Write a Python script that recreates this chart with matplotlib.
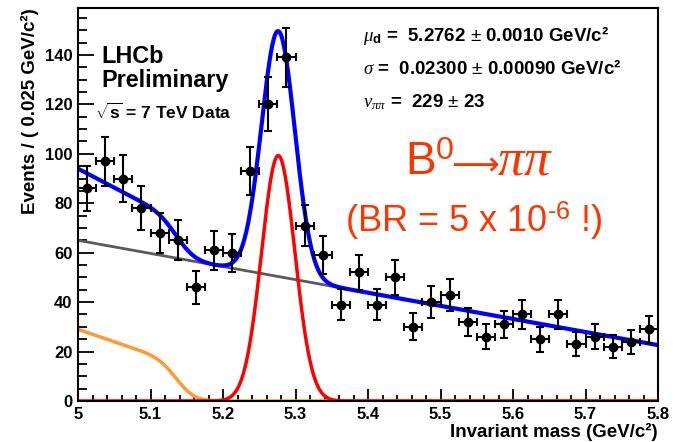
import math

import matplotlib
matplotlib.use("Agg")
import matplotlib.pyplot as plt
import numpy as np
from matplotlib.ticker import MultipleLocator

plt.rcParams["font.family"] = ["Liberation Sans", "DejaVu Sans"]
plt.rcParams["mathtext.fontset"] = "custom"
plt.rcParams["mathtext.rm"] = "Liberation Sans"
plt.rcParams["mathtext.it"] = "Liberation Serif:italic"
plt.rcParams["mathtext.bf"] = "Liberation Sans:bold"

# binned data, 0.025 GeV/c^2 bins from 5.0 to 5.8
bin_width = 0.025
bin_centers = np.arange(5.0125, 5.8, bin_width)
counts = [86, 97, 90, 78, 68, 65, 46, 61, 60, 93, 120, 139, 71, 59, 39, 52,
          39, 50, 30, 40, 43, 32, 26, 31, 35, 25, 35, 23, 26, 22, 24, 29]

sig_mean = 5.2762
sig_sigma = 0.02300
sig_yield = 229
comb_at_5 = 65.0
comb_slope = -53.0
part_at_5 = 29.0
part_slope = -100.0
part_edge = 5.14
part_res = 0.02

x = np.linspace(5.0, 5.8, 801)
signal = sig_yield * bin_width / (np.sqrt(2 * np.pi) * sig_sigma) * np.exp(-0.5 * ((x - sig_mean) / sig_sigma) ** 2)
comb = comb_at_5 + comb_slope * (x - 5.0)
erfc = np.vectorize(math.erfc)
partial = (part_at_5 + part_slope * (x - 5.0)) * 0.5 * erfc((x - part_edge) / (np.sqrt(2) * part_res))
total = signal + comb + partial

fig = plt.figure(figsize=(6.75, 4.42), dpi=100)
ax = fig.add_axes([78 / 675, 41 / 442, 580 / 675, 393 / 442])

ax.plot(x, comb, color="#5a5a5a", lw=2)
ax.plot(x, partial, color="#ff9933", lw=2.5)
ax.plot(x, signal, color="#ff0000", lw=2.5)
ax.plot(x, total, color="#0000ff", lw=3)

ax.errorbar(bin_centers, counts, xerr=bin_width / 2, yerr=np.sqrt(counts), fmt="o", color="black",
            ms=6, elinewidth=1.5, capsize=3, capthick=1.5, zorder=5)

ax.set_xlim(5.0, 5.8)
ax.set_ylim(0, 159)
ax.xaxis.set_major_locator(MultipleLocator(0.1))
ax.xaxis.set_minor_locator(MultipleLocator(0.02))
ax.yaxis.set_major_locator(MultipleLocator(20))
ax.yaxis.set_minor_locator(MultipleLocator(5))
ax.xaxis.set_major_formatter(lambda v, p: f"{v:g}")
ax.tick_params(axis="x", which="major", direction="in", length=8.6, width=1.3, pad=4)
ax.tick_params(axis="x", which="minor", direction="in", length=4.3, width=1.3)
ax.tick_params(axis="y", which="major", direction="in", length=11.5, width=1.3, pad=4)
ax.tick_params(axis="y", which="minor", direction="in", length=6.5, width=1.3)
for lab in ax.get_xticklabels() + ax.get_yticklabels():
    lab.set_fontsize(12)
    lab.set_fontweight("bold")
for s in ax.spines.values():
    s.set_linewidth(1.5)

ax.set_xlabel("Invariant mass (GeV/c²)", loc="right", fontsize=13.5, fontweight="bold", labelpad=1)
ax.set_ylabel("Events / ( 0.025 GeV/c²)", loc="top", fontsize=13.5, fontweight="bold", labelpad=4)

ax.text(101 / 675, 1 - 63 / 442, "LHCb", transform=fig.transFigure, fontsize=16.8, fontweight="bold",
        va="baseline")
ax.text(101 / 675, 1 - 87 / 442, "Preliminary", transform=fig.transFigure, fontsize=16.8, fontweight="bold",
        va="baseline")
ax.text(95 / 675, 1 - 119 / 442, r"$\sqrt{\mathbf{s}}$ = 7 TeV Data", transform=fig.transFigure, fontsize=12.5,
        fontweight="bold", va="baseline")

ax.text(363 / 675, 1 - 41 / 442, r"$\mu_{\mathbf{d}}$ =  5.2762 $\pm$ 0.0010 GeV/c²", transform=fig.transFigure,
        fontsize=13.5, fontweight="bold", va="baseline")
ax.text(363 / 675, 1 - 74 / 442, r"$\sigma$ =  0.02300 $\pm$ 0.00090 GeV/c²", transform=fig.transFigure,
        fontsize=13.5, fontweight="bold", va="baseline")
ax.text(363 / 675, 1 - 107 / 442, r"$\nu_{\pi\pi}$ =  229 $\pm$ 23", transform=fig.transFigure,
        fontsize=13.5, fontweight="bold", va="baseline")

red = "#ff3300"
ax.text(405 / 675, 1 - 175 / 442, r"B$^0$", transform=fig.transFigure,
        fontsize=33, color=red, va="baseline")
ax.text(475 / 675, 1 - 175 / 442, "⟶", transform=fig.transFigure, family=["DejaVu Sans"],
        fontsize=24, color=red, va="baseline", ha="center")
ax.text(497 / 675, 1 - 175 / 442, r"$\pi\pi$", transform=fig.transFigure,
        fontsize=38, color=red, va="baseline")
ax.text(345 / 675, 1 - 232 / 442, r"(BR = 5 x 10$^{\text{-6}}$ !)", transform=fig.transFigure,
        fontsize=26, color=red, va="baseline")

fig.savefig("out.png", dpi=100)
